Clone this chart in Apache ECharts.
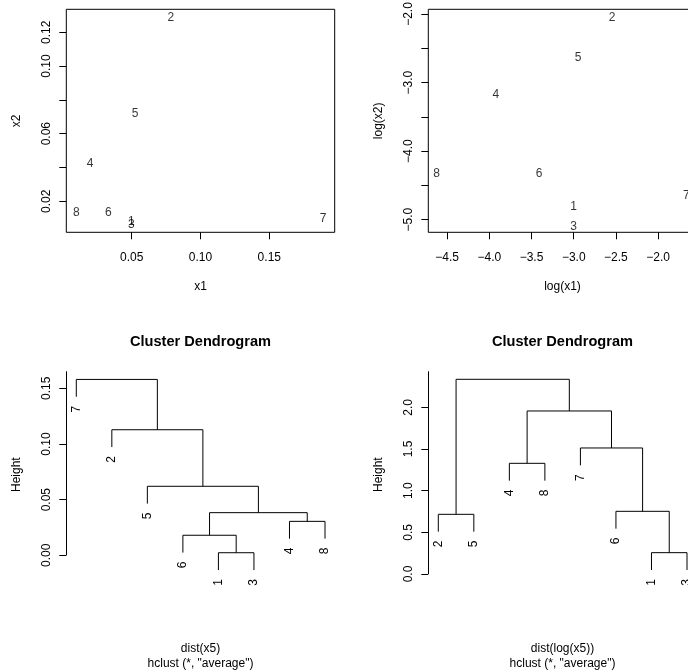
<!DOCTYPE html>
<html><head><meta charset="utf-8">
<script src="https://cdn.jsdelivr.net/npm/echarts@6/dist/echarts.min.js"></script>
<style>html,body{margin:0;padding:0;background:#fff}#c{width:688px;height:672px}</style>
</head><body><div id="c"></div>
<script>
// ---------------- data ----------------
const pointLabels = ['1','2','3','4','5','6','7','8'];
const x1 = [0.0497, 0.0785, 0.0497, 0.0198, 0.0524, 0.0330, 0.1890, 0.0098];
const x2 = [0.0082, 0.1284, 0.0061, 0.0420, 0.0717, 0.0131, 0.0095, 0.0132];

const xTicksRaw = [0.05, 0.10, 0.15];
const yTicksRaw = [0.02, 0.04, 0.06, 0.08, 0.10, 0.12];
const yLabelsRaw = [0.02, 0.06, 0.10, 0.12];
const xTicksLog = [-4.5, -4.0, -3.5, -3.0, -2.5, -2.0, -1.5];
const yTicksLog = [-5.0, -4.5, -4.0, -3.5, -3.0, -2.5, -2.0];
const yLabelsLog = [-5.0, -4.0, -3.0, -2.0];

// hclust(dist(x5), "average")  (merge matrix: negative = leaf, positive = earlier merge)
const dendro1Merge = [[-1,-3],[-6,1],[-4,-8],[2,3],[-5,4],[-2,5],[-7,6]];
const dendro1Height = [0.0023, 0.0180, 0.0305, 0.0383, 0.0620, 0.1128, 0.1580];
const dendro1Order = ['7','2','5','6','1','3','4','8'];
const dendro1Ticks = [0.00, 0.05, 0.10, 0.15];

// hclust(dist(log(x5)), "average")
const dendro2Merge = [[-1,-3],[-2,-5],[-6,1],[-4,-8],[-7,3],[4,5],[2,6]];
const dendro2Height = [0.256, 0.716, 0.752, 1.328, 1.512, 1.956, 2.336];
const dendro2Order = ['2','5','4','8','7','6','1','3'];
const dendro2Ticks = [0.0, 0.5, 1.0, 1.5, 2.0];

const titleText = 'Cluster Dendrogram';
const sub1 = 'dist(x5)\nhclust (*, "average")';
const sub2 = 'dist(log(x5))\nhclust (*, "average")';

// ---------------- helpers ----------------
const FONT = "'Liberation Sans', Arial, Helvetica, sans-serif";
const minus = s => String(s).replace('-', '\u2212');

function buildDendro(merge, height, order) {
  const pos = {};
  order.forEach((lab, i) => { pos[lab] = i + 1; });
  const hang = 0.1 * (Math.max(...height) - Math.min(...height));
  const mx = [], segs = [], leaves = [];
  merge.forEach((m, k) => {
    const h = height[k];
    const ch = m.map(c => c < 0
      ? { x: pos[pointLabels[-c - 1]], y: h - hang, leaf: -c - 1 }
      : { x: mx[c - 1], y: height[c - 1] });
    mx[k] = (ch[0].x + ch[1].x) / 2;
    segs.push([ch[0].x, ch[0].y, ch[1].x, ch[1].y, h]);
    ch.forEach(c => { if (c.leaf !== undefined) leaves.push([c.x, c.y, c.leaf]); });
  });
  return { segs, leaves };
}
const d1 = buildDendro(dendro1Merge, dendro1Height, dendro1Order);
const d2 = buildDendro(dendro2Merge, dendro2Height, dendro2Order);

const tick = { show: true, length: 7, inside: false, lineStyle: { color: '#000', width: 1 } };
const nameStyle = { fontSize: 12, color: '#000', fontFamily: FONT };
const lblStyle = { fontSize: 12, color: '#000', fontFamily: FONT };

function xAx(gi, min, max, ticks, fmt, name) {
  return {
    type: 'value', gridIndex: gi, min, max, position: 'bottom',
    axisLine: { show: false }, splitLine: { show: false },
    axisTick: Object.assign({ customValues: ticks }, tick),
    axisLabel: Object.assign({ customValues: ticks, margin: 19.5, formatter: fmt, showMinLabel: true, showMaxLabel: true }, lblStyle),
    name, nameLocation: 'middle', nameGap: 48.5, nameTextStyle: nameStyle
  };
}
function yAx(gi, min, max, ticks, labels, fmt, name) {
  return {
    type: 'value', gridIndex: gi, min, max, position: 'left',
    axisLine: { show: false }, splitLine: { show: false },
    axisTick: Object.assign({ customValues: ticks }, tick),
    axisLabel: Object.assign({ customValues: labels, rotate: 90, margin: 14, formatter: fmt, showMinLabel: true, showMaxLabel: true }, lblStyle),
    name, nameLocation: 'middle', nameGap: 44, nameTextStyle: nameStyle
  };
}
function hiddenX(gi, min, max, name) {
  return {
    type: 'value', gridIndex: gi, min, max,
    axisLine: { show: false }, axisTick: { show: false }, axisLabel: { show: false }, splitLine: { show: false },
    name, nameLocation: 'middle', nameGap: 63, nameTextStyle: Object.assign({ lineHeight: 15 }, nameStyle)
  };
}

function textScatter(xi, data) {
  return {
    type: 'scatter', xAxisIndex: xi, yAxisIndex: xi, symbolSize: 1,
    itemStyle: { color: 'rgba(0,0,0,0)' }, silent: true,
    label: { show: true, position: 'inside', formatter: '{b}', color: '#000', fontSize: 12, fontFamily: FONT, textBorderWidth: 0 },
    data
  };
}
function segSeries(xi, segs) {
  return {
    type: 'custom', xAxisIndex: xi, yAxisIndex: xi, data: segs, clip: false, silent: true,
    encode: { x: [0, 2], y: [1, 3, 4] },
    renderItem: (params, api) => {
      const a = api.coord([api.value(0), api.value(1)]);
      const b = api.coord([api.value(0), api.value(4)]);
      const c = api.coord([api.value(2), api.value(4)]);
      const d = api.coord([api.value(2), api.value(3)]);
      return { type: 'polyline', shape: { points: [a, b, c, d] }, style: { stroke: '#000', fill: null, lineWidth: 1 } };
    }
  };
}
function leafSeries(xi, leaves) {
  return {
    type: 'custom', xAxisIndex: xi, yAxisIndex: xi, data: leaves, clip: false, silent: true,
    encode: { x: 0, y: 1 },
    renderItem: (params, api) => {
      const p = api.coord([api.value(0), api.value(1)]);
      return {
        type: 'text', x: p[0], y: p[1] + 9, rotation: Math.PI / 2,
        style: { text: pointLabels[api.value(2)], align: 'right', verticalAlign: 'middle', fontSize: 12, fontFamily: FONT, fill: '#000' }
      };
    }
  };
}
function yLineSeries(xi, xmin) {
  return {
    type: 'custom', xAxisIndex: xi, yAxisIndex: xi, data: [[xmin, 0]], clip: false, silent: true,
    encode: { x: 0, y: 1 },
    renderItem: (params, api) => {
      const p = api.coord([api.value(0), api.value(1)]);
      const x = Math.round(p[0]) + 0.5;
      return { type: 'line', shape: { x1: x, y1: p[1], x2: x, y2: params.coordSys.y }, style: { stroke: '#000', lineWidth: 1 } };
    }
  };
}

const G = [
  { left: 66.3, top: 9.3, width: 268.4, height: 223, show: true, borderColor: '#000', borderWidth: 1, backgroundColor: 'transparent', outerBoundsMode: 'none', containLabel: false },
  { left: 428.3, top: 9.3, width: 268.4, height: 223, show: true, borderColor: '#000', borderWidth: 1, backgroundColor: 'transparent', outerBoundsMode: 'none', containLabel: false },
  { left: 66.3, top: 371.3, width: 268.4, height: 206.7, outerBoundsMode: 'none', containLabel: false },
  { left: 428.3, top: 371.3, width: 268.4, height: 206.7, outerBoundsMode: 'none', containLabel: false }
];
const DX_MIN = 0.7186, DX_MAX = 8.2727;

const option = {
  animation: false,
  backgroundColor: '#fff',
  textStyle: { fontFamily: FONT },
  grid: G,
  graphic: [
    { type: 'text', x: 66.3 + 134.2, y: 341.7, style: { text: titleText, align: 'center', verticalAlign: 'middle', font: 'bold 14.6px ' + FONT, fill: '#000' } },
    { type: 'text', x: 428.3 + 134.2, y: 341.7, style: { text: titleText, align: 'center', verticalAlign: 'middle', font: 'bold 14.6px ' + FONT, fill: '#000' } }
  ],
  xAxis: [
    xAx(0, 0.00247, 0.19753, xTicksRaw, v => v.toFixed(2), 'x1'),
    xAx(1, -4.723, -1.543, xTicksLog, v => minus(v.toFixed(1)), 'log(x1)'),
    hiddenX(2, DX_MIN, DX_MAX, sub1),
    hiddenX(3, DX_MIN, DX_MAX, sub2)
  ],
  yAxis: [
    yAx(0, 0.00166, 0.13359, yTicksRaw, yLabelsRaw, v => v.toFixed(2), 'x2'),
    yAx(1, -5.184, -1.9314, yTicksLog, yLabelsLog, v => minus(v.toFixed(1)), 'log(x2)'),
    yAx(2, -0.0204, 0.1653, dendro1Ticks, dendro1Ticks, v => v.toFixed(2), 'Height'),
    yAx(3, -0.048, 2.432, dendro2Ticks, dendro2Ticks, v => v.toFixed(1), 'Height')
  ],
  series: [
    textScatter(0, x1.map((v, i) => ({ name: pointLabels[i], value: [v, x2[i]] }))),
    textScatter(1, x1.map((v, i) => ({ name: pointLabels[i], value: [Math.log(v), Math.log(x2[i])] }))),
    segSeries(2, d1.segs), leafSeries(2, d1.leaves), yLineSeries(2, DX_MIN),
    segSeries(3, d2.segs), leafSeries(3, d2.leaves), yLineSeries(3, DX_MIN)
  ]
};
const chart = echarts.init(document.getElementById('c'));
chart.setOption(option);
</script>
</body></html>
